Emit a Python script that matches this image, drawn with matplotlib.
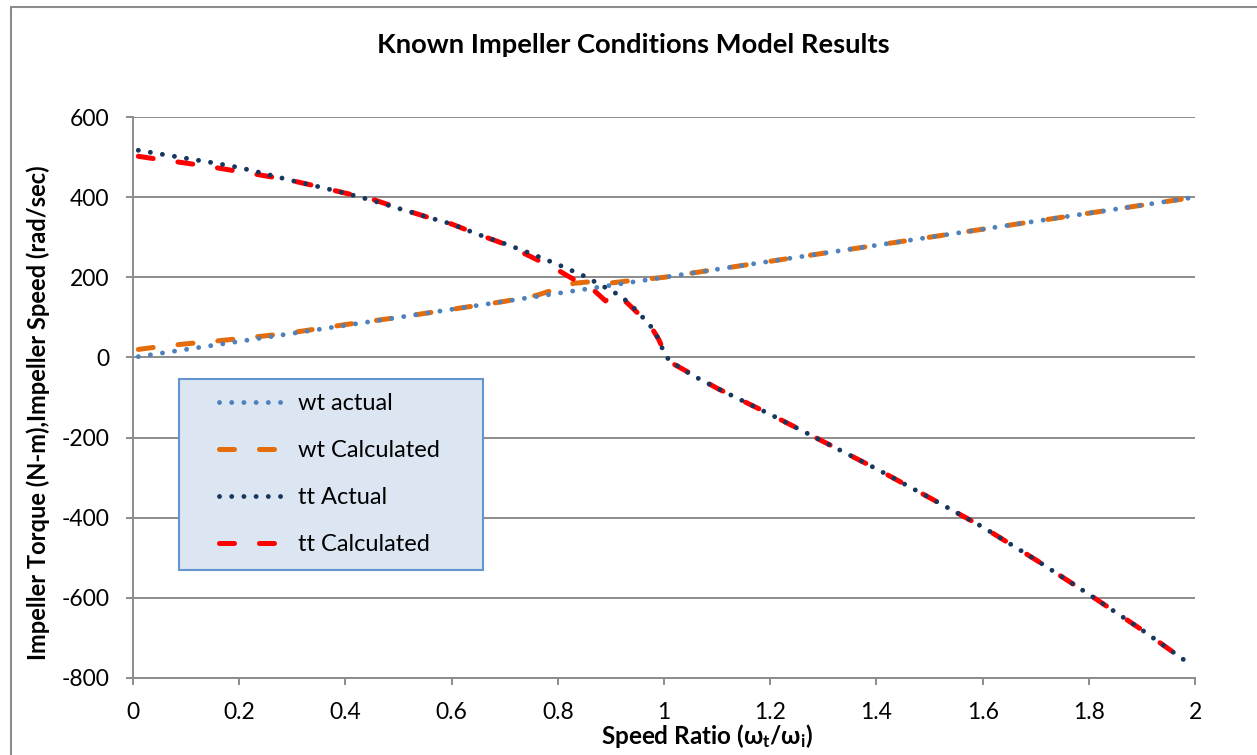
import matplotlib
matplotlib.use("Agg")
import matplotlib.pyplot as plt
from matplotlib.patches import Rectangle

plt.rcParams['font.family'] = ['Lato', 'DejaVu Sans']
plt.rcParams['mathtext.default'] = 'regular'
plt.rcParams['axes.unicode_minus'] = False

# speed ratio samples and series values
x_wt_actual = [0.01, 0.5, 1.0, 1.5, 1.99]
wt_actual = [2, 100, 200, 300, 398]

x_wt_calc = [0.01, 0.05, 0.10, 0.15, 0.20, 0.25, 0.30, 0.35, 0.40, 0.50, 0.60,
             0.70, 0.76, 0.80, 0.83, 0.87, 0.90, 0.94, 1.00, 1.50, 1.99]
wt_calc = [20, 27, 34, 40, 47, 54, 62, 72, 82, 100, 120,
           140, 155, 172, 185, 190, 186, 192, 200, 300, 398]

x_tt_actual = [0.01, 0.05, 0.10, 0.15, 0.20, 0.25, 0.30, 0.35, 0.40, 0.45, 0.50,
               0.55, 0.60, 0.65, 0.70, 0.75, 0.80, 0.85, 0.90, 0.92, 0.94, 0.96,
               0.98, 0.99, 1.00, 1.01, 1.05, 1.10, 1.20, 1.30, 1.40, 1.50, 1.60,
               1.70, 1.80, 1.90, 1.99]
tt_actual = [517, 508, 497, 486, 474, 458, 441, 426, 410, 392, 372,
             352, 333, 307, 284, 259, 232, 203, 167, 152, 128, 100,
             70, 45, 12, -8, -42, -77, -142, -210, -278, -350, -423,
             -505, -591, -680, -765]

x_tt_calc = [0.01, 0.05, 0.10, 0.15, 0.20, 0.25, 0.30, 0.35, 0.40, 0.45, 0.50,
             0.55, 0.60, 0.65, 0.70, 0.75, 0.80, 0.84, 0.87, 0.89, 0.90, 0.93,
             0.955, 0.98, 0.99, 1.00, 1.02, 1.05, 1.10, 1.20, 1.30, 1.40, 1.50,
             1.60, 1.70, 1.80, 1.90, 1.99]
tt_calc = [502, 494, 485, 475, 464, 453, 441, 426, 410, 395, 373,
           352, 333, 307, 283, 251, 218, 187, 165, 141, 158, 137,
           105, 67, 45, 15, -18, -40, -77, -142, -210, -278, -350,
           -423, -505, -591, -680, -765]

fig = plt.figure(figsize=(12.57, 7.55), dpi=100)
ax = fig.add_axes([0.1058, 0.102, 0.8449, 0.743])

# chart area outline (runs off the right and bottom edges)
fig.patches.append(Rectangle((11 / 1257, -0.2), 2.0, 1.2 - 6.5 / 755,
                             transform=fig.transFigure, fill=False,
                             edgecolor='#8c8c8c', lw=1.5))

dot = (0, (0.01, 2.5))
dash = (0, (3, 5))

ax.plot(x_wt_calc, wt_calc, color='#E46C0A', lw=3.6, ls=dash,
        dash_capstyle='round', label='wt Calculated', zorder=3)
ax.plot(x_tt_calc, tt_calc, color='#FF0000', lw=3.6, ls=dash,
        dash_capstyle='round', label='tt Calculated', zorder=3)
ax.plot(x_wt_actual, wt_actual, color='#4F81BD', lw=3.5, ls=dot,
        dash_capstyle='round', label='wt actual', zorder=4)
ax.plot(x_tt_actual, tt_actual, color='#17375E', lw=3.5, ls=dot,
        dash_capstyle='round', label='tt Actual', zorder=4)

ax.set_xlim(0, 2)
ax.set_ylim(-800, 600)
ax.set_xticks([0, 0.2, 0.4, 0.6, 0.8, 1, 1.2, 1.4, 1.6, 1.8, 2])
ax.set_xticklabels(['0', '0.2', '0.4', '0.6', '0.8', '1', '1.2', '1.4', '1.6', '1.8', '2'])
ax.set_yticks(range(-800, 601, 200))

ax.grid(axis='y', color='#8c8c8c', lw=1.4)
ax.set_axisbelow(True)
for side in ['top', 'right']:
    ax.spines[side].set_visible(False)
for side in ['left', 'bottom']:
    ax.spines[side].set_color('#8c8c8c')
    ax.spines[side].set_linewidth(1.4)
ax.tick_params(axis='both', direction='out', length=5, width=1.4,
               color='#8c8c8c', labelsize=16.5)
ax.tick_params(axis='y', pad=12)
ax.tick_params(axis='x', pad=12)

fig.text(0.504, 0.94, 'Known Impeller Conditions Model Results', fontsize=19.7,
         fontweight='bold', ha='center', va='center')
ax.set_xlabel('Speed Ratio (ω$_\\mathregular{t}$/ω$_\\mathregular{i}$)',
              fontsize=17.5, fontweight='bold')
ax.xaxis.set_label_coords(0.5405, -0.103)
ax.xaxis.label.set_va('center')
ax.set_ylabel('Impeller Torque (N-m),Impeller Speed (rad/sec)',
              fontsize=17, fontweight='bold')
ax.yaxis.set_label_coords(-0.0895, 0.473)
ax.yaxis.label.set_va('center')

# legend box
ax.add_patch(Rectangle((0.0433, 0.1925), 0.2863, 0.3405, transform=ax.transAxes,
                       facecolor='#DCE6F2', edgecolor='#6495D2', lw=1.5, zorder=5))
handles, labels = ax.get_legend_handles_labels()
order = [2, 0, 3, 1]
leg = ax.legend([handles[i] for i in order], [labels[i] for i in order],
                loc='center left', bbox_to_anchor=(0.081, 0.3636), frameon=False,
                fontsize=17, borderpad=0, borderaxespad=0, handlelength=2.7,
                handletextpad=0.64, labelspacing=1.1)
leg.set_zorder(6)

fig.savefig('out.png', dpi=100, facecolor='white')
